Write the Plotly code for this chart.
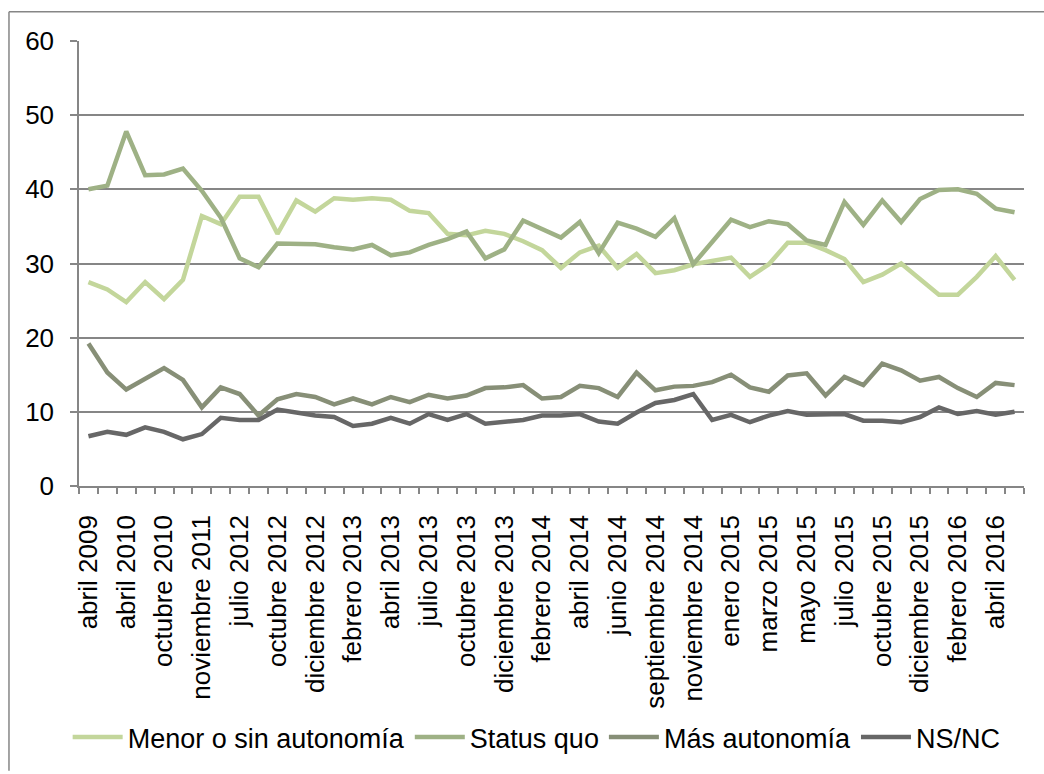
import plotly.graph_objects as go

# ---- data -------------------------------------------------------------
tick_labels = ["abril 2009", "abril 2010", "octubre 2010", "noviembre 2011", "julio 2012",
               "octubre 2012", "diciembre 2012", "febrero 2013", "abril 2013", "julio 2013",
               "octubre 2013", "diciembre 2013", "febrero 2014", "abril 2014", "junio 2014",
               "septiembre 2014", "noviembre 2014", "enero 2015", "marzo 2015", "mayo 2015",
               "julio 2015", "octubre 2015", "diciembre 2015", "febrero 2016", "abril 2016"]

menor = [27.5, 26.5, 24.8, 27.5, 25.2, 27.8, 36.4, 35.3, 39.0, 39.0,
         34.0, 38.5, 37.0, 38.8, 38.6, 38.8, 38.6, 37.1, 36.8, 34.0,
         33.8, 34.4, 34.0, 33.0, 31.8, 29.4, 31.5, 32.4, 29.4, 31.3,
         28.7, 29.1, 29.9, 30.3, 30.8, 28.2, 29.9, 32.8, 32.8, 31.8,
         30.6, 27.5, 28.5, 30.0, 27.9, 25.8, 25.8, 28.2, 31.0, 27.8]

status_quo = [40.0, 40.5, 47.8, 41.9, 42.0, 42.8, 39.8, 36.2, 30.7, 29.5,
              32.7, 32.7, 32.6, 32.2, 31.9, 32.5, 31.1, 31.5, 32.5, 33.3,
              34.3, 30.7, 31.9, 35.8, 34.7, 33.5, 35.6, 31.4, 35.5, 34.7,
              33.6, 36.1, 29.9, 32.8, 35.9, 34.9, 35.7, 35.3, 33.1, 32.5,
              38.3, 35.2, 38.5, 35.6, 38.7, 39.9, 40.0, 39.4, 37.4, 36.9]

mas = [19.2, 15.3, 13.0, 14.5, 15.9, 14.3, 10.6, 13.3, 12.4, 9.5,
       11.7, 12.4, 12.0, 11.0, 11.8, 11.0, 12.0, 11.3, 12.3, 11.8,
       12.2, 13.2, 13.3, 13.6, 11.8, 12.0, 13.5, 13.2, 12.0, 15.3,
       12.9, 13.4, 13.5, 14.0, 15.0, 13.3, 12.7, 14.9, 15.2, 12.2,
       14.7, 13.6, 16.5, 15.6, 14.2, 14.7, 13.2, 12.0, 13.9, 13.6]

nsnc = [6.7, 7.3, 6.9, 7.9, 7.3, 6.3, 7.0, 9.2, 8.9, 8.9,
        10.3, 9.9, 9.5, 9.3, 8.1, 8.4, 9.2, 8.4, 9.7, 8.9,
        9.7, 8.4, 8.7, 8.9, 9.5, 9.5, 9.7, 8.7, 8.4, 9.9,
        11.2, 11.6, 12.4, 8.9, 9.6, 8.6, 9.5, 10.1, 9.6, 9.7,
        9.7, 8.8, 8.8, 8.6, 9.3, 10.6, 9.7, 10.1, 9.6, 10.0]

series_names = ["Menor o sin autonomía", "Status quo", "Más autonomía", "NS/NC"]
series_values = [menor, status_quo, mas, nsnc]
series_colors = ["#C3D69B", "#9EB185", "#878F77", "#676767"]

# ---- figure -----------------------------------------------------------
x = list(range(len(menor)))
tick_pos = x[::2]

FONT = "Liberation Sans, Arial, sans-serif"
GRAY = "#868686"

fig = go.Figure()
for name, vals, col in zip(series_names, series_values, series_colors):
    fig.add_trace(go.Scatter(x=x, y=vals, mode="lines", name=name,
                             line=dict(color=col, width=4.5)))

fig.update_layout(
    width=1044, height=774,
    margin=dict(l=79, r=20, t=41, b=285),
    paper_bgcolor="white", plot_bgcolor="white",
    font=dict(family=FONT, size=26, color="black"),
    showlegend=True,
    legend=dict(orientation="h", x=-0.012, xanchor="left", y=-0.565, yanchor="middle",
                font=dict(size=27), itemwidth=50, tracegroupgap=0,
                bgcolor="rgba(0,0,0,0)"),
    xaxis=dict(range=[-0.5, len(x) - 0.5], tickmode="array", tickvals=tick_pos,
               ticktext=tick_labels, tickangle=-90, ticks="", showgrid=False,
               zeroline=False, showline=True, linecolor=GRAY, linewidth=1.5,
               ticklabelstandoff=17,
               tickfont=dict(size=26),
               minor=dict(tickmode="linear", tick0=-0.5, dtick=1, ticks="outside",
                          ticklen=6, tickwidth=1.5, tickcolor=GRAY, showgrid=False)),
    yaxis=dict(range=[0, 60], dtick=10, tick0=0, showgrid=True, gridcolor=GRAY,
               gridwidth=1.5, zeroline=False, showline=True, linecolor=GRAY,
               linewidth=1.5, ticks="outside", ticklen=7, tickwidth=1.5,
               tickcolor=GRAY, ticklabelstandoff=11, tickfont=dict(size=26)),
)

# outer chart-area border (left and top edges visible)
fig.add_shape(type="line", xref="paper", yref="paper", x0=-0.0741, x1=-0.0741,
              y0=-0.64, y1=1.066, line=dict(color=GRAY, width=1.5))
fig.add_shape(type="line", xref="paper", yref="paper", x0=-0.0741, x1=1.03,
              y0=1.066, y1=1.066, line=dict(color=GRAY, width=1.5))

fig.write_html("out.html")
